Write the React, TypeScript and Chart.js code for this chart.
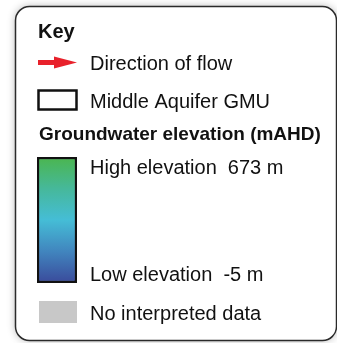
import React, { useEffect, useRef } from "react";
import { Chart, registerables } from "chart.js";

Chart.register(...registerables);

// ---- content ----
const KEY_TITLE = "Key";
const FLOW_LABEL = "Direction of flow";
const GMU_LABEL = "Middle Aquifer GMU";
const ELEV_TITLE = "Groundwater elevation (mAHD)";
const ELEV_LABELS = ["High elevation", "Low elevation"];
const ELEV_RANGE = [-5, 673]; // low, high (mAHD)
const ELEV_UNIT = "m";
const NO_DATA_LABEL = "No interpreted data";
const RAMP_STOPS = [0, 0.25, 0.5, 0.75, 1];
const RAMP_COLORS = ["#4bb64e", "#46b89a", "#45bdd6", "#4185be", "#3a4a9b"];

const FONT = '"Liberation Sans", Arial, sans-serif';
const W = 337;
const H = 343;

function roundRect(ctx: CanvasRenderingContext2D, x: number, y: number, w: number, h: number, r: number) {
  ctx.beginPath();
  ctx.moveTo(x + r, y);
  ctx.lineTo(x + w - r, y);
  ctx.arcTo(x + w, y, x + w, y + r, r);
  ctx.lineTo(x + w, y + h - r);
  ctx.arcTo(x + w, y + h, x + w - r, y + h, r);
  ctx.lineTo(x + r, y + h);
  ctx.arcTo(x, y + h, x, y + h - r, r);
  ctx.lineTo(x, y + r);
  ctx.arcTo(x, y, x + r, y, r);
  ctx.closePath();
}

const keyPlugin = {
  id: "keyPanel",
  beforeDraw(chart: any) {
    const ctx: CanvasRenderingContext2D = chart.ctx;
    ctx.save();
    ctx.fillStyle = "#ffffff";
    ctx.fillRect(0, 0, W, H);
    ctx.shadowColor = "rgba(0,0,0,0.3)";
    ctx.shadowBlur = 8;
    roundRect(ctx, 15.5, 6.5, 321, 334, 14);
    ctx.fillStyle = "#ffffff";
    ctx.fill();
    ctx.shadowColor = "transparent";
    ctx.lineWidth = 1.5;
    ctx.strokeStyle = "#2a2a2a";
    ctx.stroke();
    ctx.restore();
  },
  afterDraw(chart: any) {
    const ctx: CanvasRenderingContext2D = chart.ctx;
    const y = chart.scales.y;
    ctx.save();
    ctx.fillStyle = "#111111";
    ctx.textBaseline = "alphabetic";
    ctx.textAlign = "left";

    ctx.font = `bold 20px ${FONT}`;
    ctx.fillText(KEY_TITLE, 38, 38);

    // arrow
    ctx.fillStyle = "#e8212b";
    ctx.fillRect(38, 60, 20, 5);
    ctx.beginPath();
    ctx.moveTo(54, 56.5);
    ctx.lineTo(77, 62.5);
    ctx.lineTo(54, 68.5);
    ctx.closePath();
    ctx.fill();

    ctx.fillStyle = "#111111";
    ctx.font = `20px ${FONT}`;
    ctx.fillText(FLOW_LABEL, 90, 70);

    // GMU box
    ctx.lineWidth = 2.5;
    ctx.strokeStyle = "#111111";
    ctx.strokeRect(38.5, 90.5, 38, 19);
    ctx.fillText(GMU_LABEL, 90, 108);

    ctx.font = `bold 19px ${FONT}`;
    ctx.fillText(ELEV_TITLE, 39, 140);

    ctx.font = `20px ${FONT}`;
    const high = ELEV_RANGE[1];
    const low = ELEV_RANGE[0];
    ctx.fillText(`${ELEV_LABELS[0]}  ${high} ${ELEV_UNIT}`, 90, y.getPixelForValue(high) + 17);
    ctx.fillText(`${ELEV_LABELS[1]}  ${low} ${ELEV_UNIT}`, 90, y.getPixelForValue(low) - 2);

    // no data
    ctx.fillStyle = "#c8c8c8";
    ctx.fillRect(39, 301, 38, 22);
    ctx.fillStyle = "#111111";
    ctx.fillText(NO_DATA_LABEL, 90, 320);
    ctx.restore();
  },
};

export default function App() {
  const ref = useRef<HTMLCanvasElement | null>(null);
  useEffect(() => {
    document.body.style.margin = "0";
    const canvas = ref.current!;
    const chart = new Chart(canvas, {
      type: "bar",
      data: {
        labels: ["ramp"],
        datasets: [
          {
            data: [[ELEV_RANGE[0], ELEV_RANGE[1]]] as any,
            backgroundColor: (c: any) => {
              const ch = c.chart;
              const ys = ch.scales?.y;
              if (!ys || !ch.chartArea) return RAMP_COLORS[0];
              const y0 = ys.getPixelForValue(ELEV_RANGE[1]);
              const y1 = ys.getPixelForValue(ELEV_RANGE[0]);
              if (!isFinite(y0) || !isFinite(y1)) return RAMP_COLORS[0];
              const g = ch.ctx.createLinearGradient(0, y0, 0, y1);
              RAMP_STOPS.forEach((s, i) => g.addColorStop(s, RAMP_COLORS[i]));
              return g;
            },
            borderColor: "#111111",
            borderWidth: 2.5,
            borderSkipped: false,
            barPercentage: 1,
            categoryPercentage: 1,
          },
        ],
      },
      options: {
        animation: false,
        responsive: false,
        devicePixelRatio: 1,
        layout: { padding: { left: 37, right: 260, top: 157, bottom: 60 } },
        plugins: { legend: { display: false }, tooltip: { enabled: false } },
        scales: {
          x: { display: false },
          y: { display: false, min: ELEV_RANGE[0], max: ELEV_RANGE[1] },
        },
      },
      plugins: [keyPlugin],
    });
    return () => chart.destroy();
  }, []);
  return (
    <div style={{ width: W, height: H }}>
      <canvas ref={ref} width={W} height={H} style={{ display: "block" }} />
    </div>
  );
}
